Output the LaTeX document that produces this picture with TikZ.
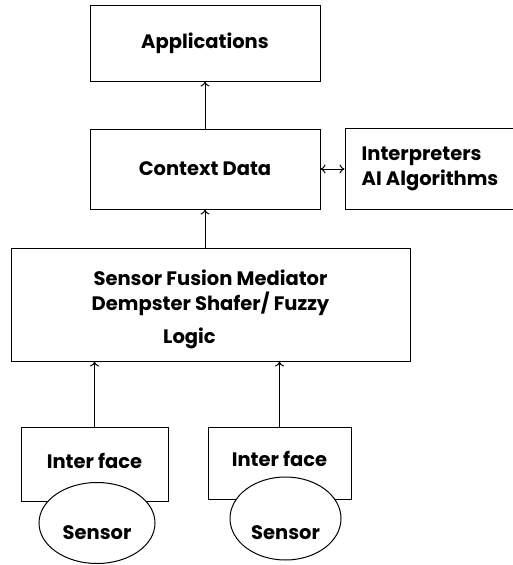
\documentclass[tikz,border=0pt]{standalone}
\usepackage{fontspec}
\setmainfont{Poppins}
\usetikzlibrary{positioning,shapes.geometric,arrows.meta}

\tikzset{
    blk/.style={draw, rectangle, inner sep=0pt, font=\bfseries\fontsize{19.5}{25}\selectfont},
    sens/.style={draw, ellipse, fill=white, inner sep=0pt, text depth=0pt,
        font=\bfseries\fontsize{19.5}{25}\selectfont},
    tip/.tip={To[length=5pt,width=9pt]},
    flow/.style={-tip},
}

\begin{document}
\begin{tikzpicture}[x=1pt, y=-1pt, line width=1pt]
            \useasboundingbox (0,0) rectangle (512,565);
            \node[blk, minimum width=230pt, minimum height=76pt] at (205,43) (apps) {Applications};
            \node[blk, minimum width=230pt, minimum height=80pt, below=47pt of apps] (ctx) {Context Data};
            \node[blk, minimum width=170pt, minimum height=81pt, right=24pt of ctx, align=left] (interp)
                {Interpreters\\AI Algorithms};
            \node[blk, minimum width=399pt, minimum height=113pt, align=center] at (210.5,304.5) (fusion)
                {\rule{0pt}{26pt}Sensor Fusion Mediator\\Dempster Shafer/ Fuzzy\\[8pt]\hspace*{-42pt}Logic};
            \node[blk, minimum width=147pt, minimum height=74pt, text depth=6pt] at (94.5,464) (if1) {Inter face};
            \node[blk, minimum width=143pt, minimum height=72pt, text depth=8pt] at (279.5,463) (if2) {Inter face};
            \node[sens, minimum width=116pt, minimum height=81pt, text height=32pt] at (97,523) (s1) {Sensor};
            \node[sens, minimum width=111pt, minimum height=83pt, text height=41pt] at (285.5,518.5) (s2) {Sensor};
            \draw[flow] (ctx.north) -- (apps.south);
            \draw[flow] (fusion.north -| ctx.south) -- (ctx.south);
            \draw[flow] (if1.north) -- (if1.north |- fusion.south);
            \draw[flow] (if2.north) -- (if2.north |- fusion.south);
            \draw[tip-tip] (ctx.east) -- (interp.west);
\end{tikzpicture}
\end{document}
